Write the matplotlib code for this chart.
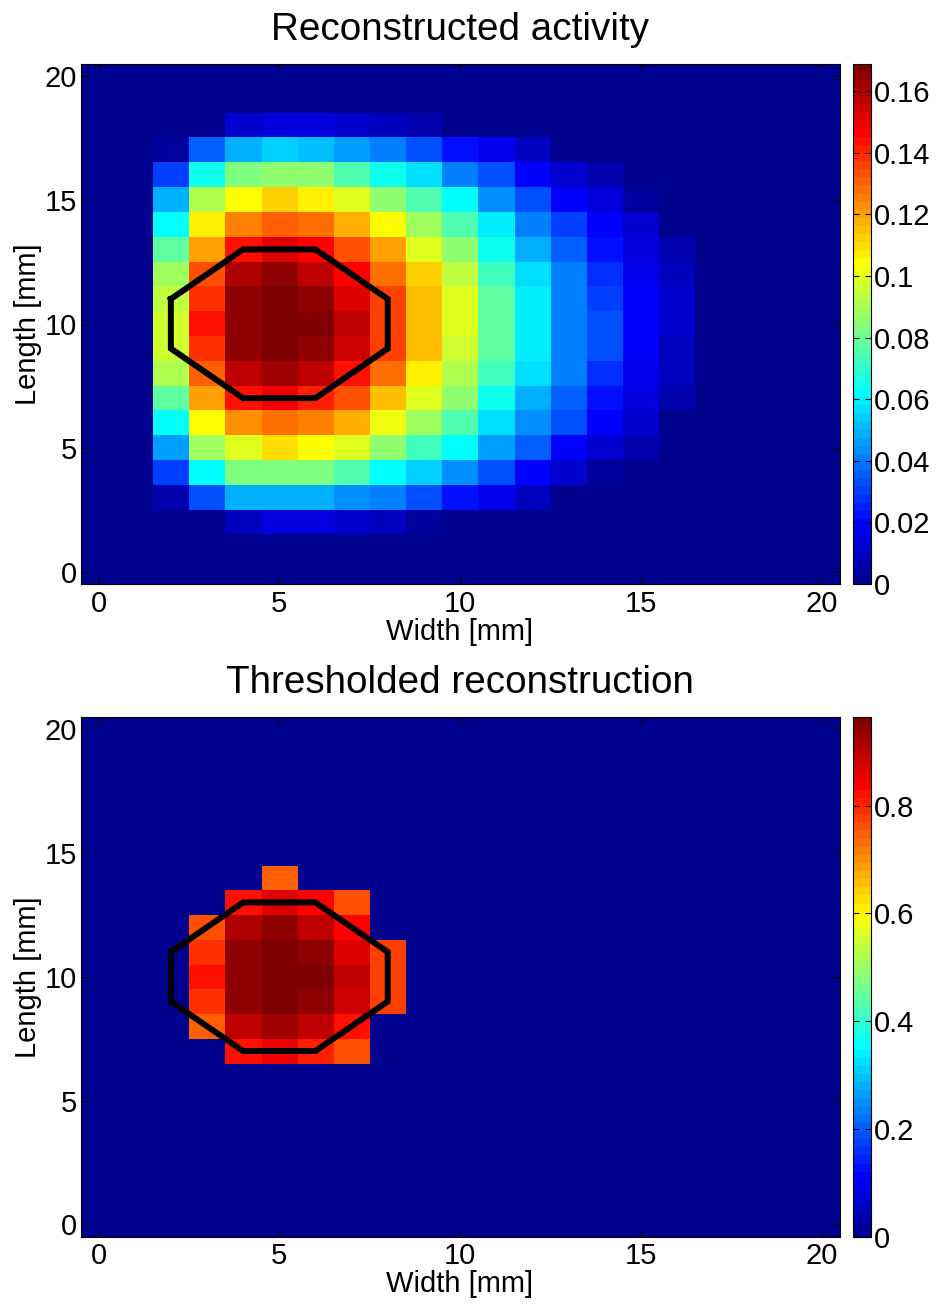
import numpy as np
import matplotlib
matplotlib.use("Agg")
import matplotlib.pyplot as plt
from matplotlib.colors import ListedColormap
from matplotlib.ticker import FormatStrFormatter

plt.rcParams["font.family"] = ["Liberation Sans", "DejaVu Sans"]

# ---------------------------------------------------------------- data
width_mm = np.arange(21)      # pixel centres along x
length_mm = np.arange(21)     # pixel centres along y

# Non-zero part of the reconstructed activity.
# Columns are x = 2 ... 17 mm, rows run from y = 18 mm down to y = 2 mm.
block_x0 = 2
block_y_top = 18
activity_rows = [
    [0.000, 0.000, 0.011, 0.015, 0.015, 0.013, 0.010, 0.006, 0.002, 0.000, 0.000, 0.000, 0.000, 0.000, 0.000, 0.000],
    [0.005, 0.036, 0.050, 0.055, 0.052, 0.046, 0.042, 0.032, 0.022, 0.016, 0.010, 0.000, 0.000, 0.000, 0.000, 0.000],
    [0.031, 0.065, 0.083, 0.087, 0.085, 0.076, 0.065, 0.056, 0.042, 0.032, 0.021, 0.012, 0.007, 0.000, 0.000, 0.000],
    [0.048, 0.090, 0.104, 0.111, 0.108, 0.100, 0.087, 0.074, 0.062, 0.044, 0.034, 0.021, 0.014, 0.005, 0.000, 0.000],
    [0.063, 0.108, 0.126, 0.1315, 0.1285, 0.118, 0.105, 0.089, 0.075, 0.059, 0.042, 0.030, 0.021, 0.011, 0.000, 0.000],
    [0.077, 0.120, 0.145, 0.153, 0.147, 0.134, 0.120, 0.100, 0.087, 0.065, 0.048, 0.035, 0.023, 0.014, 0.006, 0.000],
    [0.089, 0.134, 0.160, 0.164, 0.158, 0.146, 0.1285, 0.111, 0.095, 0.072, 0.056, 0.040, 0.027, 0.017, 0.009, 0.000],
    [0.095, 0.139, 0.164, 0.1685, 0.165, 0.153, 0.135, 0.116, 0.098, 0.078, 0.060, 0.042, 0.030, 0.019, 0.011, 0.000],
    [0.097, 0.143, 0.166, 0.169, 0.168, 0.156, 0.137, 0.116, 0.098, 0.078, 0.059, 0.042, 0.032, 0.021, 0.011, 0.000],
    [0.097, 0.139, 0.164, 0.167, 0.166, 0.154, 0.135, 0.116, 0.097, 0.078, 0.060, 0.042, 0.032, 0.019, 0.009, 0.000],
    [0.091, 0.1315, 0.157, 0.163, 0.158, 0.145, 0.127, 0.107, 0.091, 0.072, 0.056, 0.040, 0.027, 0.017, 0.008, 0.000],
    [0.078, 0.120, 0.143, 0.148, 0.142, 0.133, 0.116, 0.100, 0.087, 0.065, 0.050, 0.036, 0.022, 0.014, 0.006, 0.000],
    [0.062, 0.104, 0.123, 0.1285, 0.126, 0.117, 0.102, 0.089, 0.074, 0.056, 0.044, 0.032, 0.019, 0.011, 0.000, 0.000],
    [0.046, 0.089, 0.100, 0.110, 0.104, 0.098, 0.087, 0.072, 0.062, 0.046, 0.036, 0.021, 0.012, 0.006, 0.000, 0.000],
    [0.030, 0.062, 0.083, 0.084, 0.084, 0.075, 0.063, 0.053, 0.044, 0.034, 0.021, 0.013, 0.004, 0.000, 0.000, 0.000],
    [0.006, 0.032, 0.048, 0.050, 0.050, 0.044, 0.040, 0.032, 0.022, 0.016, 0.009, 0.000, 0.000, 0.000, 0.000, 0.000],
    [0.000, 0.000, 0.009, 0.014, 0.014, 0.011, 0.008, 0.004, 0.000, 0.000, 0.000, 0.000, 0.000, 0.000, 0.000, 0.000],
]

# Threshold applied to the activity and peak value of the thresholded map
threshold = 0.130
thresholded_peak = 0.965

# True source outline (octagon), in mm
octagon_x = [2, 4, 6, 8, 8, 6, 4, 2, 2]
octagon_y = [11, 13, 13, 11, 9, 7, 7, 9, 11]

axis_ticks = [0, 5, 10, 15, 20]
top_cbar_ticks = [0, 0.02, 0.04, 0.06, 0.08, 0.1, 0.12, 0.14, 0.16]
bottom_cbar_ticks = [0, 0.2, 0.4, 0.6, 0.8]

titles = ["Reconstructed activity", "Thresholded reconstruction"]
x_label = "Width [mm]"
y_label = "Length [mm]"


# ---------------------------------------------------------------- helpers
def matlab_jet(n=64):
    """Classic 64-level jet colour table."""
    m = int(np.ceil(n / 4))
    u = np.concatenate([np.arange(1, m + 1) / m, np.ones(m - 1), np.arange(m, 0, -1) / m])
    g = int(np.ceil(m / 2)) - (1 if n % 4 == 1 else 0) + np.arange(1, len(u) + 1)
    r = g + m
    b = g - m
    table = np.zeros((n, 3))
    keep_r = r <= n
    keep_g = g <= n
    keep_b = b >= 1
    table[r[keep_r] - 1, 0] = u[: keep_r.sum()]
    table[g[keep_g] - 1, 1] = u[: keep_g.sum()]
    table[b[keep_b] - 1, 2] = u[len(u) - keep_b.sum():]
    return ListedColormap(table)


activity = np.zeros((len(length_mm), len(width_mm)))
for k, row in enumerate(activity_rows):
    y = block_y_top - k
    activity[y, block_x0:block_x0 + len(row)] = row

thresholded = np.where(activity >= threshold,
                       activity / activity.max() * thresholded_peak, 0.0)

cmap = matlab_jet(64)

W, H = 938, 1304
fig = plt.figure(figsize=(W / 100, H / 100), dpi=100)


def px_rect(left, top, right, bottom):
    return [left / W, 1 - bottom / H, (right - left) / W, (bottom - top) / H]


panels = [
    (activity, titles[0], top_cbar_ticks, "%g", (80.5, 63.5, 839.5, 584.0)),
    (thresholded, titles[1], bottom_cbar_ticks, "%g", (80.5, 716.7, 839.5, 1236.7)),
]

extent = (width_mm[0] - 0.5, width_mm[-1] + 0.5, length_mm[0] - 0.5, length_mm[-1] + 0.5)

for data, title, cticks, cfmt, (l, t, r, b) in panels:
    ax = fig.add_axes(px_rect(l, t, r, b))
    im = ax.imshow(data, cmap=cmap, origin="lower", extent=extent, aspect="auto",
                   interpolation="nearest", vmin=0, vmax=data.max())
    ax.plot(octagon_x, octagon_y, color="black", lw=4.3, solid_joinstyle="miter")
    ax.set_xlim(extent[0], extent[1])
    ax.set_ylim(extent[2], extent[3])
    ax.set_xticks(axis_ticks)
    ax.set_yticks(axis_ticks)
    ax.tick_params(direction="in", top=True, right=True, length=5, width=0.8,
                   labelsize=21, color="black")
    ax.tick_params(axis="x", pad=4)
    ax.tick_params(axis="y", pad=2.5)
    for s in ax.spines.values():
        s.set_linewidth(0.8)
    ax.set_title(title, fontsize=27.8, pad=17)
    ax.set_xlabel(x_label, fontsize=21, labelpad=0)
    ax.set_ylabel(y_label, fontsize=21, labelpad=2)

    cax = fig.add_axes(px_rect(852.7, t, 870.7, b))
    cb = fig.colorbar(im, cax=cax, ticks=cticks)
    cb.ax.yaxis.set_major_formatter(FormatStrFormatter(cfmt))
    cb.ax.tick_params(direction="in", left=True, right=True, length=4, width=0.8,
                      labelsize=21, pad=2)
    cb.outline.set_linewidth(0.8)

fig.savefig("out.png", dpi=100)
